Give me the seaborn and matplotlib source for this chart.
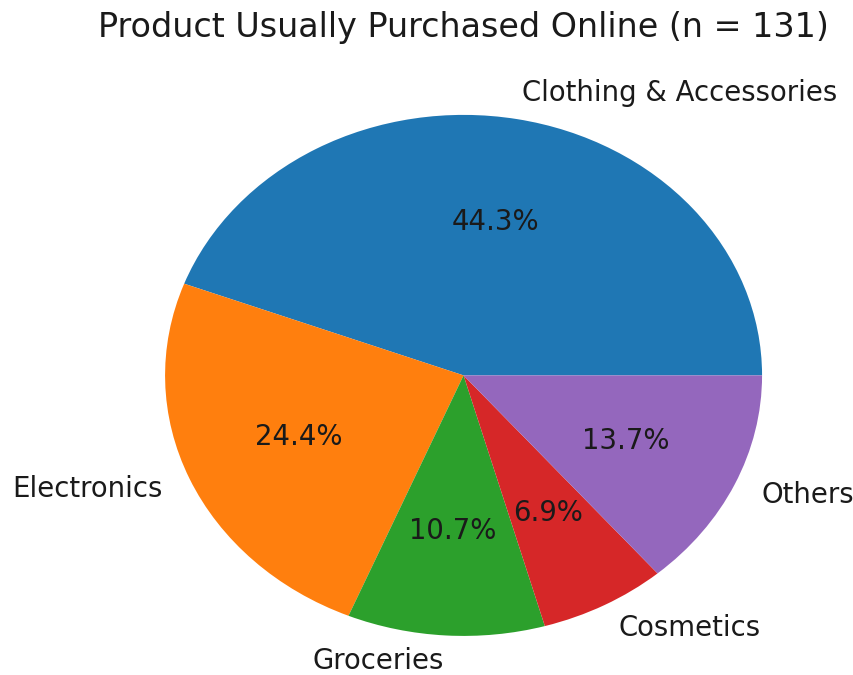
import matplotlib
matplotlib.use("Agg")
import matplotlib.pyplot as plt
import seaborn as sns

categories = ["Clothing & Accessories", "Electronics", "Groceries", "Cosmetics", "Others"]
counts = [58, 32, 14, 9, 18]
title = "Product Usually Purchased Online (n = 131)"

colors = sns.color_palette("tab10", len(categories))

fig = plt.figure(figsize=(8.54, 6.75), dpi=100)
ax = fig.add_axes([0, 0, 1, 1])
ax.pie(counts, labels=categories, colors=colors, autopct="%1.1f%%",
       textprops={"fontsize": 19.8, "color": "#1a1a1a"})
# stretched pie: wider than tall
ax.set_aspect("auto")
ax.set_xlim(-1.553, 1.308)
ax.set_ylim(-1.150, 1.441)
ax.axis("off")
# title centred over the pie
ax.text(0, 1.0, title, transform=ax.get_xaxis_transform(), fontsize=24,
        ha="center", va="center", color="#1a1a1a")
ax.texts[-1].set_y(1 - 28 / 675)
fig.savefig("out.png", dpi=100)
